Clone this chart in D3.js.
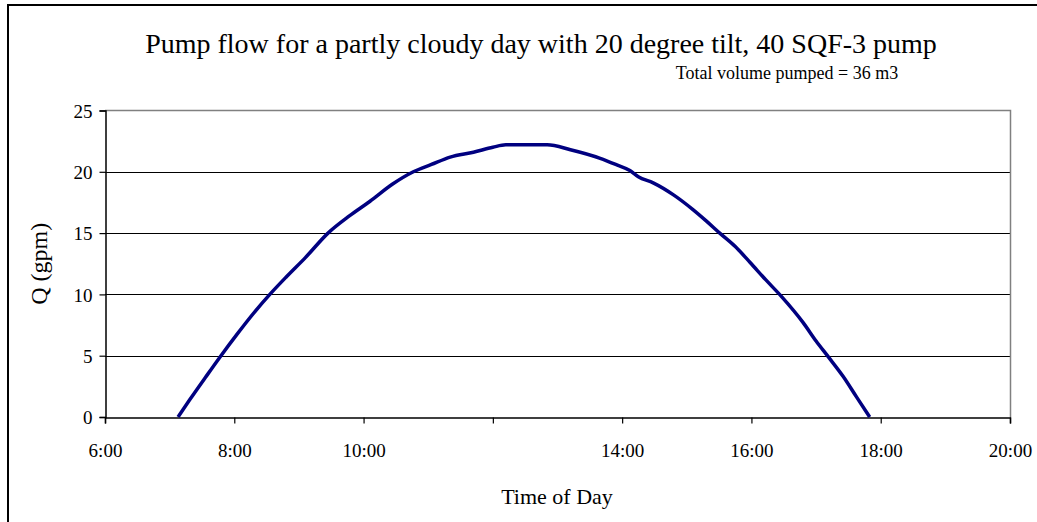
<!DOCTYPE html>
<html>
<head>
<meta charset="utf-8">
<script src="https://cdn.jsdelivr.net/npm/d3@7"></script>
<style>
  body { margin: 0; background: #fff; }
  text { font-family: "Liberation Serif", "Times New Roman", serif; fill: #000; }
</style>
</head>
<body>
<svg id="chart" width="1037" height="522"></svg>
<script>
// time of day in decimal hours, flow in gpm
var hours = [7.13, 7.31, 7.55, 7.78, 8.05, 8.32, 8.55, 8.8, 9.1, 9.45, 9.78, 10.1, 10.45, 10.77,
  11.05, 11.34, 11.7, 12.0, 12.2, 12.5, 12.84, 13.2, 13.66, 13.9, 14.12, 14.25, 14.48, 14.8,
  15.1, 15.3, 15.51, 15.75, 15.98, 16.22, 16.47, 16.8, 17.0, 17.19, 17.42, 17.63, 17.83]
var flow = [0, 1.4, 3.2, 4.9, 6.8, 8.6, 10.0, 11.4, 13.0, 15.0, 16.4, 17.6, 19.0, 20.0,
  20.6, 21.2, 21.6, 22.0, 22.2, 22.2, 22.2, 21.8, 21.1, 20.6, 20.1, 19.6, 19.1, 18.1,
  16.9, 16.0, 15.0, 13.9, 12.6, 11.2, 9.8, 7.7, 6.2, 4.9, 3.3, 1.6, 0]
var xTicks = [6, 8, 10, 12, 14, 16, 18, 20]
var xTickLabels = ['6:00', '8:00', '10:00', '', '14:00', '16:00', '18:00', '20:00']
var yTicks = [0, 5, 10, 15, 20, 25]

var title = 'Pump flow for a partly cloudy day with 20 degree tilt, 40 SQF-3 pump'
var subtitle = 'Total volume pumped = 36 m3'

var data = hours.map(function (h, i) { return { h: h, q: flow[i] } })

var svg = d3.select('#chart')

// outer chart border
svg.append('path')
  .attr('d', 'M8,600 L8,5 L1100,5')
  .attr('fill', 'none')
  .attr('stroke', '#000')
  .attr('stroke-width', 2)

var plotLeft = 105, plotRight = 1010, plotTop = 110.5, plotBottom = 417

var x = d3.scaleLinear().domain([6, 20]).range([plotLeft, plotRight])
var y = d3.scaleLinear().domain([0, 25]).range([plotBottom, plotTop])

// gridlines
svg.append('g')
  .selectAll('line')
  .data(yTicks.slice(1, -1))
  .enter()
  .append('line')
  .attr('x1', plotLeft)
  .attr('x2', plotRight)
  .attr('y1', function (d) { return Math.round(y(d)) + 0.5 })
  .attr('y2', function (d) { return Math.round(y(d)) + 0.5 })
  .attr('stroke', '#000')
  .attr('stroke-width', 1)

// plot frame top/right in gray
svg.append('path')
  .attr('d', 'M' + plotLeft + ',' + plotTop + ' L' + (plotRight + 0.5) + ',' + plotTop + ' L' + (plotRight + 0.5) + ',' + plotBottom)
  .attr('fill', 'none')
  .attr('stroke', '#808080')
  .attr('stroke-width', 1.5)

var xAxis = svg.append('g')
  .attr('transform', 'translate(0,' + (plotBottom + 0.5) + ')')
  .call(d3.axisBottom(x)
    .tickValues(xTicks)
    .tickSize(6)
    .tickPadding(20)
    .tickFormat(function (d, i) { return xTickLabels[i] }))

var yAxis = svg.append('g')
  .attr('transform', 'translate(' + (plotLeft + 0.5) + ',0)')
  .call(d3.axisLeft(y)
    .tickValues(yTicks)
    .tickSize(6)
    .tickPadding(7))

;[xAxis, yAxis].forEach(function (g) {
  g.select('.domain').attr('stroke', '#000').attr('stroke-width', 1.5)
  g.selectAll('.tick line').attr('stroke', '#000').attr('stroke-width', 1.2)
  g.selectAll('.tick text')
    .style('font-family', '"Liberation Serif", "Times New Roman", serif')
    .style('font-size', '19px')
    .attr('fill', '#000')
})
yAxis.selectAll('.tick text').attr('dy', '0.35em')

var line = d3.line()
  .x(function (d) { return x(d.h) })
  .y(function (d) { return y(d.q) })
  .curve(d3.curveMonotoneX)

svg.append('path')
  .datum(data)
  .attr('d', line)
  .attr('fill', 'none')
  .attr('stroke', '#000080')
  .attr('stroke-width', 3.5)
  .attr('stroke-linejoin', 'round')

svg.append('text')
  .attr('x', 541)
  .attr('y', 53)
  .attr('text-anchor', 'middle')
  .style('font-size', '28px')
  .text(title)

svg.append('text')
  .attr('x', 787)
  .attr('y', 79)
  .attr('text-anchor', 'middle')
  .style('font-size', '18px')
  .text(subtitle)

svg.append('text')
  .attr('transform', 'translate(47,' + ((plotTop + plotBottom) / 2) + ') rotate(-90)')
  .attr('text-anchor', 'middle')
  .style('font-size', '24px')
  .text('Q (gpm)')

svg.append('text')
  .attr('x', 557)
  .attr('y', 504)
  .attr('text-anchor', 'middle')
  .style('font-size', '22px')
  .text('Time of Day')
</script>
</body>
</html>
